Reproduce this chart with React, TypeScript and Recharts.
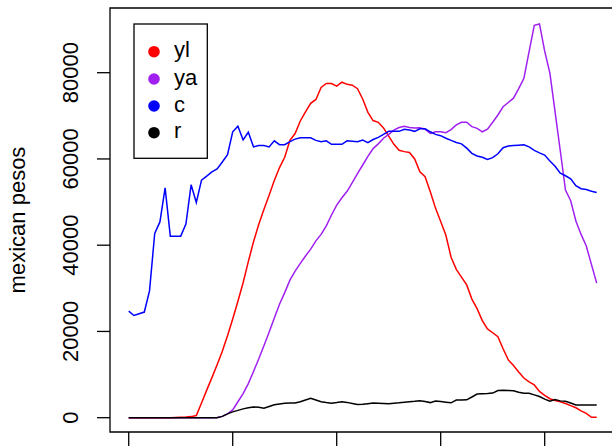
import React from 'react';
import { LineChart, Line, XAxis, YAxis, ReferenceArea } from 'recharts';

const ages = [
  0, 1, 2, 3, 4, 5, 6, 7, 8, 9,
  10, 11, 12, 13, 14, 15, 16, 17, 18, 19,
  20, 21, 22, 23, 24, 25, 26, 27, 28, 29,
  30, 31, 32, 33, 34, 35, 36, 37, 38, 39,
  40, 41, 42, 43, 44, 45, 46, 47, 48, 49,
  50, 51, 52, 53, 54, 55, 56, 57, 58, 59,
  60, 61, 62, 63, 64, 65, 66, 67, 68, 69,
  70, 71, 72, 73, 74, 75, 76, 77, 78, 79,
  80, 81, 82, 83, 84, 85, 86, 87, 88, 89,
  90,
];

const yl = [
  0, 0, 0, 0, 0, 0, 0, 0, 0, 50,
  100, 150, 250, 500, 3400, 6400, 9300, 12300, 15400, 19000,
  22900, 27000, 31300, 36200, 40800, 44800, 48300, 51600, 55000, 58000,
  60400, 64300, 65900, 68800, 70900, 72900, 73800, 76600, 77500, 77500,
  76900, 77800, 77300, 77100, 76300, 73900, 70800, 68900, 68500, 67200,
  65300, 63400, 62000, 61700, 61500, 60000, 57000, 55900, 52400, 48600,
  45500, 42300, 37200, 34400, 32600, 30800, 27500, 25300, 22500, 20600,
  19700, 18800, 16000, 13400, 12100, 10600, 9200, 8300, 7600, 6100,
  5200, 4400, 4000, 3700, 3300, 2800, 2300, 1600, 1000, 100,
  100,
];

const ya = [
  0, 0, 0, 0, 0, 0, 0, 0, 0, 0,
  0, 0, 0, 0, 0, 0, 0, 50, 300, 900,
  1800, 3700, 5600, 7900, 10700, 13600, 16700, 19800, 23100, 26300,
  29000, 31900, 34000, 35800, 37500, 39100, 41000, 42500, 44500, 47000,
  49300, 51000, 52500, 54500, 56600, 58600, 60600, 62400, 63500, 64800,
  65700, 66700, 67300, 67600, 67300, 67200, 67250, 66900, 65900, 66300,
  66300, 66100, 66800, 67900, 68500, 68500, 67500, 67100, 66300, 66900,
  68500, 70200, 72100, 73100, 74100, 76300, 78700, 84900, 91000, 91300,
  85000, 79900, 70900, 61900, 52800, 50300, 45600, 42500, 39800, 35500,
  31200,
];

const c = [
  24700, 23700, 24100, 24500, 29400, 42700, 45400, 53300, 42100, 42100,
  42100, 44900, 54000, 49900, 55100, 56000, 57000, 57700, 59300, 61000,
  66300, 67600, 64400, 66200, 62800, 63100, 63100, 62800, 64200, 63300,
  63300, 64000, 64600, 64900, 64900, 64900, 64300, 64000, 64200, 63400,
  63400, 63400, 64200, 64100, 64000, 64400, 63800, 64500, 65000, 65700,
  66400, 66400, 66400, 66900, 66700, 66400, 67000, 67000, 66300, 65700,
  65400, 64800, 64300, 63800, 63500, 62500, 61300, 60700, 60400, 59900,
  60300, 61200, 62600, 63000, 63100, 63200, 63300, 62800, 62000, 61400,
  60900, 59500, 58300, 56700, 56100, 55400, 53800, 53100, 52900, 52500,
  52200,
];

const r = [
  0, 0, 0, 0, 0, 0, 0, 0, 0, 0,
  0, 0, 0, 0, 0, 0, 0, 0, 300, 900,
  1350, 1700, 2050, 2300, 2500, 2400, 2200, 2600, 3000, 3200,
  3350, 3400, 3400, 3700, 4100, 4500, 4100, 3700, 3500, 3350,
  3500, 3700, 3550, 3300, 3050, 3100, 3250, 3400, 3350, 3300,
  3250, 3350, 3450, 3600, 3700, 3800, 3950, 3750, 3500, 3850,
  3750, 3600, 3450, 4100, 4100, 4150, 4800, 5500, 5550, 5600,
  5700, 6300, 6350, 6300, 6250, 5900, 5650, 5650, 5300, 4900,
  4300, 3800, 4200, 3900, 3800, 3400, 2950, 2950, 2950, 2950,
  2950,
];

const seriesNames = ['yl', 'ya', 'c', 'r'];
const seriesColors = ['#FF0000', '#A020F0', '#0000FF', '#000000'];
const xTicks = [0, 20, 40, 60, 80];
const yTicks = [0, 20000, 40000, 60000, 80000];
const yLabel = 'mexican pesos';

const seriesValues: Record<string, number[]> = { yl, ya, c, r };

const data = ages.map((age, i) => {
  const row: Record<string, number> = { age };
  seriesNames.forEach((name) => {
    row[name] = seriesValues[name][i];
  });
  return row;
});

const FONT = '"Liberation Sans", Arial, Helvetica, sans-serif';
const X_DOMAIN: [number, number] = [-3.6, 93.6];
const Y_DOMAIN: [number, number] = [-3316, 95003];

function YTick(props: any) {
  const { x, y, payload } = props;
  return (
    <text
      x={x}
      y={y}
      transform={`rotate(-90 ${x} ${y})`}
      textAnchor="middle"
      fontFamily={FONT}
      fontSize={22}
      fill="#000"
    >
      {payload.value}
    </text>
  );
}

function NoTick() {
  return <g />;
}

function YLabel(props: any) {
  const vb = props && props.viewBox ? props.viewBox : { x: 0, y: 8, width: 110, height: 424 };
  const lx = (vb.x || 0) + 25;
  const ly = vb.y + vb.height / 2;
  return (
    <text
      x={lx}
      y={ly}
      transform={`rotate(-90 ${lx} ${ly})`}
      textAnchor="middle"
      fontFamily={FONT}
      fontSize={22}
      fill="#000"
    >
      {yLabel}
    </text>
  );
}

function LegendBox() {
  const rowYs = [28.7, 56, 83, 109.7];
  return (
    <svg
      width={78}
      height={140}
      style={{ position: 'absolute', left: 133, top: 23, overflow: 'visible' }}
    >
      <rect x={1} y={1} width={73.3} height={134.3} fill="#fff" stroke="#000" strokeWidth={1.3} />
      {seriesNames.map((name, i) => (
        <g key={name}>
          <circle cx={21} cy={rowYs[i]} r={5.8} fill={seriesColors[i]} />
          <text
            x={41}
            y={rowYs[i] + 5.7}
            fontFamily={FONT}
            fontSize={22}
            fill="#000"
          >
            {name}
          </text>
        </g>
      ))}
    </svg>
  );
}

export default function App() {
  return (
    <div
      style={{
        position: 'absolute',
        left: 0,
        top: 0,
        width: 612,
        height: 446,
        overflow: 'hidden',
        background: '#fff',
      }}
    >
      <LineChart
        width={630}
        height={446}
        data={data}
        margin={{ top: 8, right: 14.6, bottom: 0, left: 0 }}
      >
        <XAxis
          dataKey="age"
          type="number"
          domain={X_DOMAIN}
          ticks={xTicks}
          allowDataOverflow
          height={14}
          tickSize={14}
          tick={NoTick}
          axisLine={false}
          stroke="#000"
          tickLine={{ stroke: '#000', strokeWidth: 1.3 }}
        />
        <YAxis
          type="number"
          domain={Y_DOMAIN}
          ticks={yTicks}
          allowDataOverflow
          width={110}
          tickSize={13}
          tickMargin={19}
          tick={YTick}
          axisLine={false}
          stroke="#000"
          tickLine={{ stroke: '#000', strokeWidth: 1.3 }}
          label={YLabel}
        />
        <ReferenceArea
          x1={X_DOMAIN[0]}
          x2={X_DOMAIN[1]}
          y1={Y_DOMAIN[0]}
          y2={Y_DOMAIN[1]}
          fill="none"
          fillOpacity={0}
          stroke="#000"
          strokeWidth={1.3}
          ifOverflow="visible"
        />
        {seriesNames.map((name, i) => (
          <Line
            key={name}
            type="linear"
            dataKey={name}
            stroke={seriesColors[i]}
            strokeWidth={1.5}
            dot={false}
            activeDot={false}
            isAnimationActive={false}
          />
        ))}
      </LineChart>
      <LegendBox />
    </div>
  );
}
